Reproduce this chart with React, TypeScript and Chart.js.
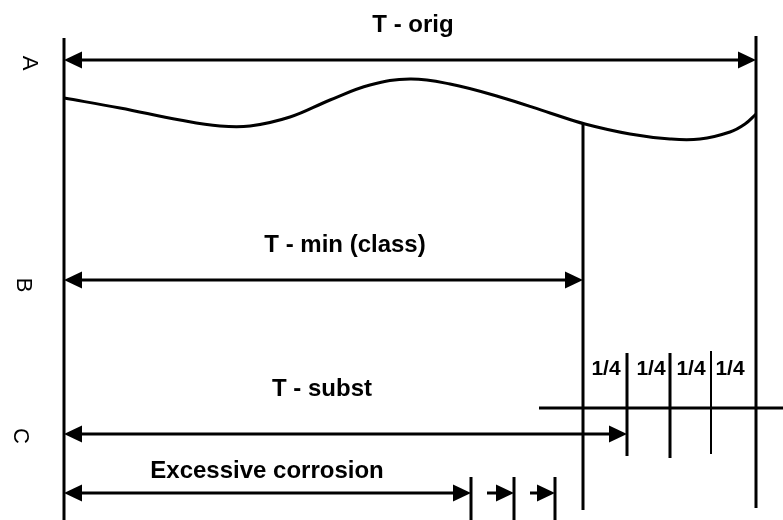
import React, { useEffect, useRef } from "react";
import { Chart, registerables } from "chart.js";

Chart.register(...registerables);

const W = 783;
const H = 520;

// Wall profile (curve under line A)
const curveX = [64, 120, 180, 220, 250, 290, 330, 370, 410, 450, 500, 550, 585, 630, 670, 700, 730, 745, 756];
const curveY = [98, 108, 120, 126, 126, 117, 100, 85, 79, 84, 97, 113, 124, 134, 139, 139, 132, 124, 114];

// Dimension arrows
const arrowFrom = [64, 64, 64, 64, 487, 530];
const arrowTo = [756, 583, 627, 471, 514, 555];
const arrowY = [60, 280, 434, 493, 493, 493];
const arrowBoth = [true, true, true, true, false, false];

// Vertical reference lines
const vLineX = [64, 756, 583, 627, 670, 711, 471, 514, 555];
const vLineTop = [38, 36, 124, 353, 353, 351, 477, 477, 477];
const vLineBottom = [522, 508, 510, 456, 458, 454, 522, 522, 522];
const vLineWidth = [3, 3, 3, 3, 3, 2, 3, 3, 3];

// Horizontal line (quarter scale)
const hLineY = [408];
const hLineFrom = [539];
const hLineTo = [783];

// Text labels
const textLabels = ["T - orig", "T - min (class)", "T - subst", "Excessive corrosion"];
const textX = [413, 345, 322, 267];
const textY = [25, 245, 389, 471];

const quarterLabels = ["1/4", "1/4", "1/4", "1/4"];
const quarterX = [606, 651, 691, 730];
const quarterY = [369, 369, 369, 369];

const rowLabels = ["A", "B", "C"];
const rowX = [29, 23, 20];
const rowY = [63, 285, 436];

const FONT = "'Liberation Sans', Arial, Helvetica, sans-serif";

function lineDs(points: { x: number; y: number }[], width: number, tension = 0) {
  return {
    type: "line" as const,
    data: points,
    borderColor: "#000",
    borderWidth: width,
    pointRadius: 0,
    showLine: true,
    tension,
    fill: false,
    clip: false as any,
    borderCapStyle: "butt" as const,
  };
}

const overlayPlugin = {
  id: "overlay",
  afterDatasetsDraw(chart: any) {
    const ctx: CanvasRenderingContext2D = chart.ctx;
    const xs = chart.scales.x;
    const ys = chart.scales.y;
    const px = (v: number) => xs.getPixelForValue(v);
    const py = (v: number) => ys.getPixelForValue(v);
    ctx.save();
    ctx.fillStyle = "#000";
    const head = (tipX: number, y: number, dir: number) => {
      const L = 18;
      const h = 8.5;
      ctx.beginPath();
      ctx.moveTo(tipX, y);
      ctx.lineTo(tipX - dir * L, y - h);
      ctx.lineTo(tipX - dir * L, y + h);
      ctx.closePath();
      ctx.fill();
    };
    for (let i = 0; i < arrowFrom.length; i++) {
      const y = py(arrowY[i]);
      head(px(arrowTo[i]), y, 1);
      if (arrowBoth[i]) head(px(arrowFrom[i]), y, -1);
    }
    ctx.textAlign = "center";
    ctx.textBaseline = "middle";
    ctx.font = `bold 24px ${FONT}`;
    for (let i = 0; i < textLabels.length; i++) {
      ctx.fillText(textLabels[i], px(textX[i]), py(textY[i]));
    }
    ctx.font = `bold 21px ${FONT}`;
    for (let i = 0; i < quarterLabels.length; i++) {
      ctx.fillText(quarterLabels[i], px(quarterX[i]), py(quarterY[i]));
    }
    ctx.font = `22px ${FONT}`;
    for (let i = 0; i < rowLabels.length; i++) {
      ctx.save();
      ctx.translate(px(rowX[i]), py(rowY[i]));
      ctx.rotate(Math.PI / 2);
      ctx.fillText(rowLabels[i], 0, 0);
      ctx.restore();
    }
    ctx.restore();
  },
};

export default function App() {
  const ref = useRef<HTMLCanvasElement | null>(null);
  useEffect(() => {
    if (!ref.current) return;
    const datasets: any[] = [];
    datasets.push(lineDs(curveX.map((x, i) => ({ x, y: curveY[i] })), 3, 0.4));
    for (let i = 0; i < vLineX.length; i++) {
      datasets.push(
        lineDs(
          [
            { x: vLineX[i], y: vLineTop[i] },
            { x: vLineX[i], y: vLineBottom[i] },
          ],
          vLineWidth[i]
        )
      );
    }
    for (let i = 0; i < hLineY.length; i++) {
      datasets.push(
        lineDs(
          [
            { x: hLineFrom[i], y: hLineY[i] },
            { x: hLineTo[i], y: hLineY[i] },
          ],
          3
        )
      );
    }
    for (let i = 0; i < arrowFrom.length; i++) {
      const start = arrowBoth[i] ? arrowFrom[i] + 6 : arrowFrom[i];
      datasets.push(
        lineDs(
          [
            { x: start, y: arrowY[i] },
            { x: arrowTo[i] - 6, y: arrowY[i] },
          ],
          3
        )
      );
    }
    const chart = new Chart(ref.current, {
      type: "scatter",
      data: { datasets },
      options: {
        responsive: false,
        animation: false,
        layout: { padding: 0 },
        plugins: { legend: { display: false }, tooltip: { enabled: false } },
        scales: {
          x: { type: "linear", display: false, min: 0, max: W },
          y: { type: "linear", display: false, min: 0, max: H, reverse: true },
        },
      },
      plugins: [overlayPlugin],
    });
    return () => chart.destroy();
  }, []);
  return (
    <div style={{ position: "absolute", left: 0, top: 0, width: W, height: H, background: "#fff" }}>
      <canvas ref={ref} width={W} height={H} style={{ display: "block" }} />
    </div>
  );
}
